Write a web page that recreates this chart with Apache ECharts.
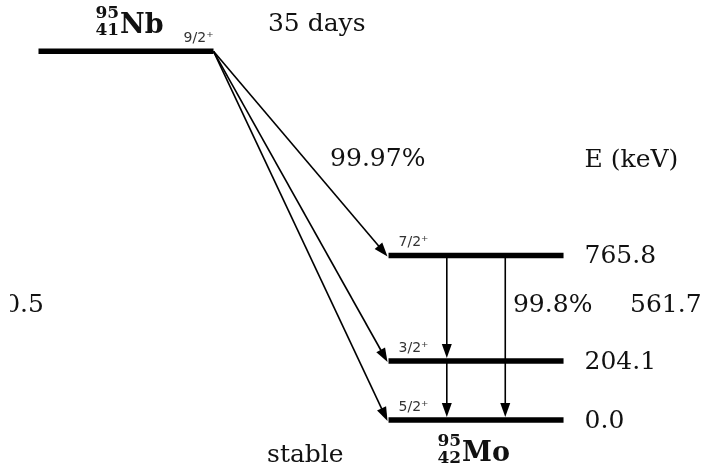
<!DOCTYPE html>
<html>
<head>
<meta charset="utf-8">
<script src="https://cdn.jsdelivr.net/npm/echarts@6/dist/echarts.min.js"></script>
<style>
  html, body { margin: 0; padding: 0; background: #fff; }
  #chart { width: 706px; height: 472px; }
</style>
</head>
<body>
<div id="chart"></div>
<script>
// parent: 95Nb
const parentA = '95', parentZ = '41', parentName = 'Nb'
const parentSpin = '9/2⁺'
const halfLife = '35 days'
const parentHeight = 6.25          // schematic level height (not to scale)
// daughter: 95Mo
const daughterA = '95', daughterZ = '42', daughterName = 'Mo'
const daughterState = 'stable'
const levelSpins = ['5/2⁺', '3/2⁺', '7/2⁺']
const levelEnergies = ['0.0', '204.1', '765.8']
const levelHeights = [0, 1, 2.79]  // schematic level heights
const betaBranch = '99.97%'
const gammaBranch = '99.8%'
const gammaEnergy = '561.7'
const qLabel = '0.5'
// gamma transitions: from level, to level, x on the level
const gammaFrom = [2, 1, 2]
const gammaTo = [1, 0, 0]
const gammaX = [2.333, 2.333, 2.667]

const SERIF = '"DejaVu Serif", serif'
const SANS = '"DejaVu Sans", sans-serif'

const txt = (x, y, text, o = {}) => ({
    type: 'text',
    style: {
        x, y, text,
        fill: o.fill || '#111',
        fontSize: o.size || 25,
        fontFamily: o.family || SERIF,
        fontWeight: o.weight || 'normal',
        align: o.align || 'left',
        verticalAlign: o.va || 'middle',
        textAlign: o.align || 'left',
        textVerticalAlign: o.va || 'middle'
    }
})

const arrow = (p, q) => {
    const head = 14, w = 10
    const dx = q[0] - p[0], dy = q[1] - p[1]
    const L = Math.hypot(dx, dy), ux = dx / L, uy = dy / L
    const bx = q[0] - ux * head, by = q[1] - uy * head
    return {
        type: 'group',
        children: [
            { type: 'line', shape: { x1: p[0], y1: p[1], x2: bx + ux, y2: by + uy }, style: { stroke: '#000', lineWidth: 1.6 } },
            { type: 'polygon', shape: { points: [[q[0], q[1]], [bx - uy * w / 2, by + ux * w / 2], [bx + uy * w / 2, by - ux * w / 2]] }, style: { fill: '#000' } }
        ]
    }
}

// pt = left end of the symbol on its baseline
const nuclide = (pt, A, Z, name) => ({
    type: 'group',
    children: [
        txt(pt[0], pt[1] - 8, name, { weight: 'bold', size: 27 }),
        txt(pt[0] - 1, pt[1] - 20, A, { weight: 'bold', size: 17, align: 'right' }),
        txt(pt[0] - 1, pt[1] - 3, Z, { weight: 'bold', size: 17, align: 'right' })
    ]
})

const chart = echarts.init(document.getElementById('chart'))

const levelData = [[0, 1, parentHeight]].concat(levelHeights.map(h => [2, 3, h]))

chart.setOption({
    backgroundColor: '#fff',
    animation: false,
    grid: { left: 0, right: 0, top: 0, bottom: 0 },
    xAxis: { type: 'value', min: -0.22, max: 3.814, show: false },
    yAxis: { type: 'value', min: -0.88, max: 7.12, show: false },
    series: [
        {
            // energy levels
            type: 'custom',
            data: levelData,
            clip: false,
            renderItem: (params, api) => {
                const a = api.coord([api.value(0), api.value(2)])
                const b = api.coord([api.value(1), api.value(2)])
                return { type: 'line', shape: { x1: a[0], y1: a[1], x2: b[0], y2: b[1] }, style: { stroke: '#000', lineWidth: 5.5 } }
            }
        },
        {
            // beta branches
            type: 'custom',
            data: levelHeights,
            clip: false,
            renderItem: (params, api) => {
                const p = api.coord([1, parentHeight])
                const q = api.coord([2, api.value(0)])
                return arrow(p, [q[0] - 1, q[1] + 1])
            }
        },
        {
            // gamma transitions
            type: 'custom',
            data: gammaX.map((x, i) => [x, levelHeights[gammaFrom[i]], levelHeights[gammaTo[i]]]),
            clip: false,
            renderItem: (params, api) => {
                const p = api.coord([api.value(0), api.value(1)])
                const q = api.coord([api.value(0), api.value(2)])
                return arrow(p, [q[0], q[1] - 3])
            }
        },
        {
            // level labels
            type: 'custom',
            data: levelHeights,
            clip: false,
            renderItem: (params, api) => {
                const i = params.dataIndex
                const l = api.coord([2, api.value(0)])
                const r = api.coord([3, api.value(0)])
                return {
                    type: 'group',
                    children: [
                        txt(r[0] + 21, r[1] + 1, levelEnergies[i]),
                        txt(l[0] + 10, l[1] - 6, levelSpins[i], { family: SANS, size: 14, fill: '#333', va: 'bottom' })
                    ]
                }
            }
        },
        {
            // annotations
            type: 'custom',
            data: [0],
            clip: false,
            renderItem: (params, api) => {
                const c = (x, y) => api.coord([x, y])
                const pr = c(1, parentHeight)
                const top = c(3, levelHeights[2])
                const qp = c(0.031, 1.934)
                return {
                    type: 'group',
                    children: [
                        nuclide(c(0.466, 6.545), parentA, parentZ, parentName),
                        nuclide(c(2.42, -0.71), daughterA, daughterZ, daughterName),
                        txt(pr[0], pr[1] - 6, parentSpin, { family: SANS, size: 14, fill: '#333', va: 'bottom', align: 'right' }),
                        txt(c(1.311, 6.713)[0], c(1.311, 6.713)[1], halfLife),
                        txt(c(1.666, 4.41)[0], c(1.666, 4.41)[1], betaBranch),
                        txt(top[0] + 21, top[1] - 95, 'E (keV)'),
                        txt(c(2.711, 1.934)[0], c(2.711, 1.934)[1], gammaBranch),
                        txt(c(3.38, 1.934)[0], c(3.38, 1.934)[1], gammaEnergy),
                        txt(c(1.306, -0.592)[0], c(1.306, -0.592)[1], daughterState),
                        {
                            type: 'group',
                            clipPath: { type: 'rect', shape: { x: 10, y: qp[1] - 20, width: 60, height: 40 } },
                            children: [txt(qp[0], qp[1], qLabel, { align: 'right' })]
                        }
                    ]
                }
            }
        }
    ]
})
</script>
</body>
</html>
